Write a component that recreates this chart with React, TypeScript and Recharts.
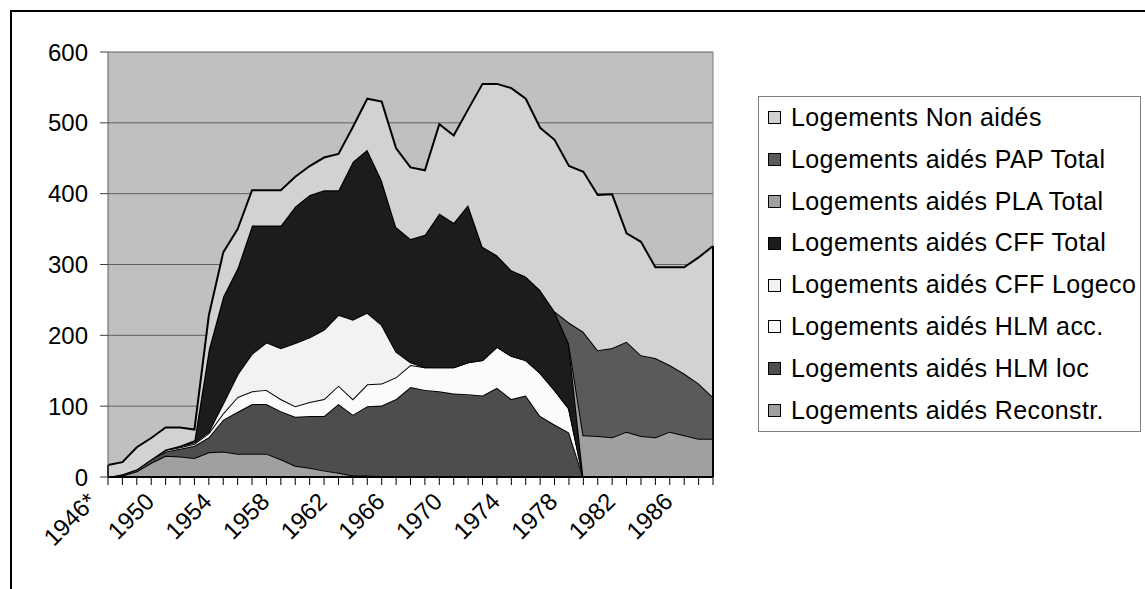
import React from 'react';
import { AreaChart, Area, XAxis, YAxis, CartesianGrid, ReferenceLine, Legend } from 'recharts';

const years = ['1946*', '1947', '1948', '1949', '1950', '1951', '1952', '1953', '1954', '1955', '1956', '1957', '1958', '1959', '1960', '1961', '1962', '1963', '1964', '1965', '1966', '1967', '1968', '1969', '1970', '1971', '1972', '1973', '1974', '1975', '1976', '1977', '1978', '1979', '1980', '1981', '1982', '1983', '1984', '1985', '1986', '1987', '1988'];

const reconstr = [0, 2, 8, 20, 30, 29, 27, 35, 36, 33, 33, 33, 25, 16, 13, 9, 6, 2, 2, 1, 0, 0, 0, 0, 0, 0, 0, 0, 0, 0, 0, 0, 0, 0, 0, 0, 0, 0, 0, 0, 0, 0, 0];
const hlmLoc = [0, 2, 3, 5, 6, 11, 17, 21, 45, 59, 70, 70, 68, 69, 73, 77, 97, 86, 98, 100, 110, 127, 123, 121, 118, 117, 115, 126, 110, 115, 86, 74, 63, 0, 0, 0, 0, 0, 0, 0, 0, 0, 0];
const hlmAcc = [0, 0, 0, 0, 2, 2, 3, 6, 9, 21, 18, 20, 17, 15, 20, 24, 26, 22, 31, 31, 31, 31, 32, 34, 37, 45, 50, 58, 61, 50, 61, 49, 34, 0, 0, 0, 0, 0, 0, 0, 0, 0, 0];
const cffLogeco = [0, 0, 0, 0, 1, 1, 2, 2, 14, 32, 53, 67, 72, 89, 91, 98, 100, 112, 101, 83, 36, 4, 0, 0, 0, 0, 0, 0, 0, 0, 0, 0, 0, 0, 0, 0, 0, 0, 0, 0, 0, 0, 0];
const cffTotal = [0, 0, 0, 0, 0, 1, 3, 116, 151, 150, 181, 165, 173, 193, 201, 197, 176, 223, 230, 204, 176, 174, 187, 217, 204, 222, 160, 129, 121, 118, 117, 111, 91, 0, 0, 0, 0, 0, 0, 0, 0, 0, 0];
const plaTotal = [0, 0, 0, 0, 0, 0, 0, 0, 0, 0, 0, 0, 0, 0, 0, 0, 0, 0, 0, 0, 0, 0, 0, 0, 0, 0, 0, 0, 0, 0, 0, 0, 0, 59, 58, 56, 64, 58, 56, 64, 59, 54, 54];
const papTotal = [0, 0, 0, 0, 0, 0, 0, 0, 0, 0, 0, 0, 0, 0, 0, 0, 0, 0, 0, 0, 0, 0, 0, 0, 0, 0, 0, 0, 0, 0, 0, 0, 30, 146, 121, 126, 127, 114, 112, 94, 87, 78, 59];
const nonAides = [17, 17, 31, 30, 31, 26, 15, 48, 62, 55, 50, 50, 50, 42, 41, 46, 51, 49, 72, 111, 111, 101, 91, 126, 123, 135, 230, 242, 257, 251, 229, 242, 221, 226, 219, 217, 153, 160, 128, 138, 150, 178, 213];

const yTicks = [0, 100, 200, 300, 400, 500, 600];

// bottom to top of the stack
const series = [
  { key: 'reconstr', name: 'Logements aidés Reconstr.', values: reconstr, color: '#a0a0a0' },
  { key: 'hlmLoc', name: 'Logements aidés HLM loc', values: hlmLoc, color: '#4d4d4d' },
  { key: 'hlmAcc', name: 'Logements aidés HLM acc.', values: hlmAcc, color: '#fbfbfb' },
  { key: 'cffLogeco', name: 'Logements aidés CFF Logeco', values: cffLogeco, color: '#f2f2f2' },
  { key: 'cffTotal', name: 'Logements aidés CFF Total', values: cffTotal, color: '#1c1c1c' },
  { key: 'plaTotal', name: 'Logements aidés PLA Total', values: plaTotal, color: '#a0a0a0' },
  { key: 'papTotal', name: 'Logements aidés PAP Total', values: papTotal, color: '#5a5a5a' },
  { key: 'nonAides', name: 'Logements Non aidés', values: nonAides, color: '#d2d2d2' },
];

const data = years.map((y, i) => {
  const row: any = { year: y };
  series.forEach((s) => { row[s.key] = s.values[i]; });
  return row;
});

const totals = years.map((_, i) => series.reduce((acc, s) => acc + s.values[i], 0));
const firstYear = years[0];
const lastYear = years[years.length - 1];

const FONT = '"Liberation Sans", Arial, sans-serif';

const XTick = (props: any) => {
  const { x, y, payload, index } = props;
  if (index % 4 !== 0) return <g />;
  const ax = x - 10;
  const ay = y + 18;
  return (
    <text
      x={ax}
      y={ay}
      textAnchor="end"
      transform={`rotate(-45 ${ax} ${ay})`}
      fontFamily={FONT}
      fontSize={24}
      fill="#000"
    >
      {payload.value}
    </text>
  );
};

const LegendBox = () => (
  <div
    style={{
      width: 381,
      height: 334,
      border: '1px solid #808080',
      background: '#fff',
      fontFamily: FONT,
      fontSize: 25,
      letterSpacing: 0.4,
      color: '#000',
      position: 'relative',
      boxSizing: 'content-box',
    }}
  >
    {[...series].reverse().map((s, k) => (
      <div
        key={s.key}
        style={{
          position: 'absolute',
          left: 0,
          top: k * 41.8,
          height: 41.8,
          width: 381,
          display: 'flex',
          alignItems: 'center',
          whiteSpace: 'nowrap',
        }}
      >
        <span
          style={{
            display: 'inline-block',
            width: 11,
            height: 11,
            border: '1px solid #000',
            background: s.color,
            marginLeft: 9,
            marginRight: 10,
            flex: 'none',
          }}
        />
        <span style={{ lineHeight: '41.8px' }}>{s.name}</span>
      </div>
    ))}
  </div>
);

export default function App() {
  return (
    <div style={{ position: 'absolute', left: 0, top: 0, width: 1145, height: 589, background: '#fff', overflow: 'hidden' }}>
      <div
        style={{
          position: 'absolute',
          left: 10,
          top: 10,
          width: 1300,
          height: 800,
          borderLeft: '2px solid #000',
          borderTop: '2px solid #000',
        }}
      />
      <div style={{ position: 'absolute', left: 0, top: 0 }}>
        <AreaChart
          width={1145}
          height={589}
          data={data}
          margin={{ top: 52, right: 432, bottom: 52, left: 0 }}
        >
          <CartesianGrid vertical={false} stroke="#606060" fill="#c0c0c0" fillOpacity={1} />
          <XAxis
            dataKey="year"
            interval={0}
            height={60}
            tick={<XTick />}
            tickSize={8}
            tickMargin={0}
            axisLine={{ stroke: '#000', strokeWidth: 2 }}
            tickLine={{ stroke: '#000' }}
          />
          <YAxis
            width={108}
            domain={[0, 600]}
            ticks={yTicks}
            interval={0}
            tickSize={8}
            tickMargin={12}
            axisLine={{ stroke: '#606060' }}
            tickLine={{ stroke: '#404040' }}
            tick={{ fontFamily: FONT, fontSize: 24, fill: '#000' }}
          />
          <ReferenceLine x={lastYear} stroke="#808080" />
          {series.map((s) => (
            <Area
              key={s.key}
              type="linear"
              dataKey={s.key}
              name={s.name}
              stackId="1"
              fill={s.color}
              fillOpacity={1}
              stroke="#000"
              strokeWidth={2}
              dot={false}
              activeDot={false}
              isAnimationActive={false}
            />
          ))}
          <ReferenceLine
            segment={[{ x: lastYear, y: 0 }, { x: lastYear, y: totals[totals.length - 1] }]}
            stroke="#000"
            strokeWidth={2}
          />
          <ReferenceLine
            segment={[{ x: firstYear, y: 0 }, { x: firstYear, y: totals[0] }]}
            stroke="#000"
            strokeWidth={2}
          />
          <Legend
            layout="vertical"
            align="center"
            verticalAlign="middle"
            wrapperStyle={{ left: 758, top: 96, width: 383, height: 336 }}
            content={() => <LegendBox />}
          />
        </AreaChart>
      </div>
    </div>
  );
}
